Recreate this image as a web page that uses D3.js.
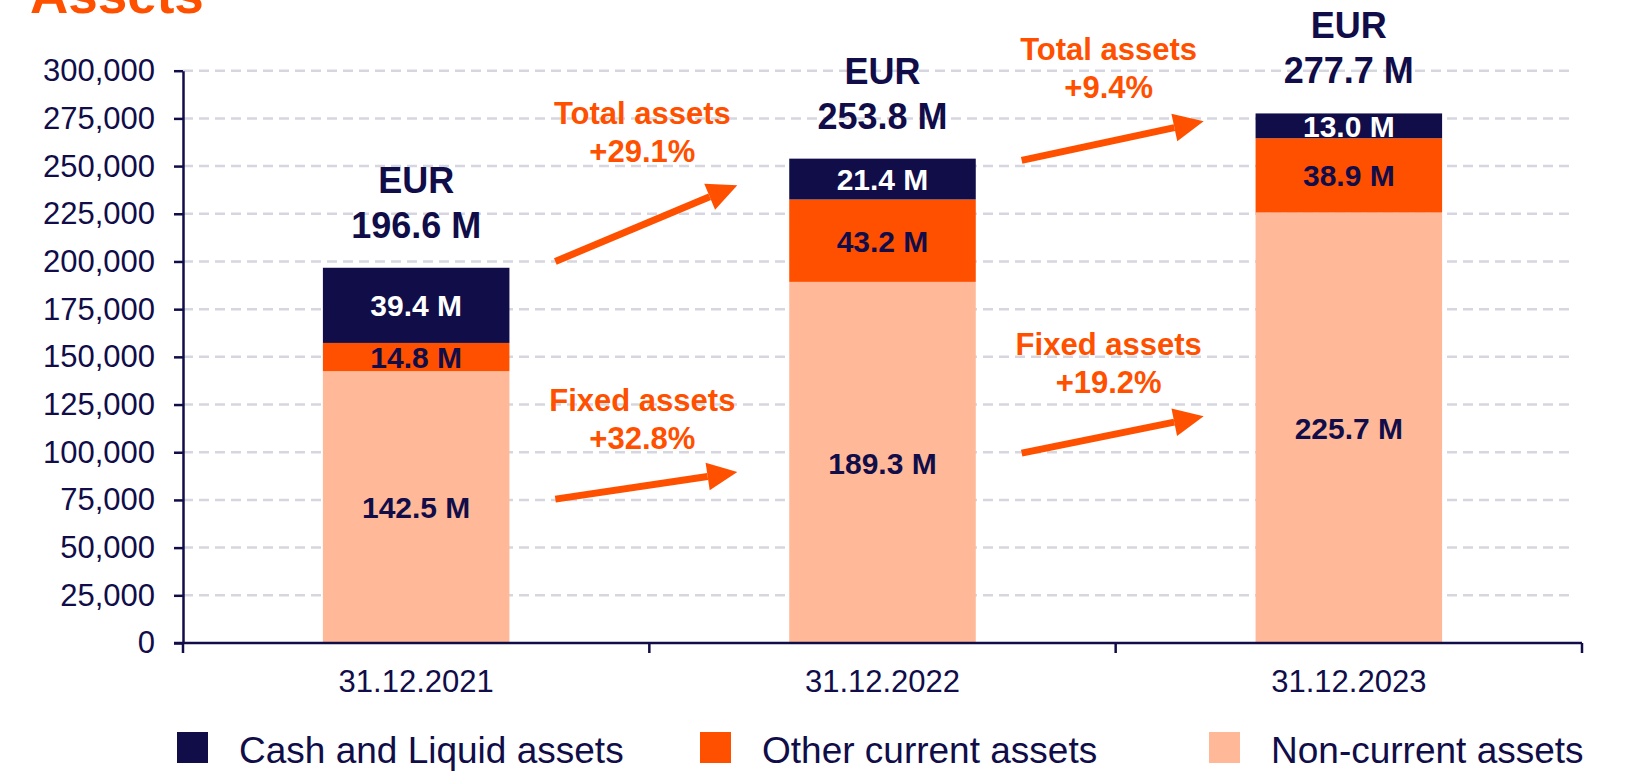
<!DOCTYPE html>
<html>
<head>
<meta charset="utf-8">
<script src="https://cdn.jsdelivr.net/npm/d3@7"></script>
<style>
    body { margin: 0; background: #fff; }
    svg { display: block; font-family: "Liberation Sans", Arial, sans-serif; }
</style>
</head>
<body>
<svg width="1630" height="771"></svg>
<script>
const
    dates = ['31.12.2021', '31.12.2022', '31.12.2023'],
    nonCurrent = [142500, 189300, 225700],
    otherCurrent = [14800, 43200, 38900],
    cash = [39400, 21400, 13000],
    totals = [196.6, 253.8, 277.7],
    yTicks = [0, 25000, 50000, 75000, 100000, 125000, 150000, 175000, 200000, 225000, 250000, 275000, 300000]

// growth notes between the bars, values in chart units
const
    totalGrowth = ['+29.1%', '+9.4%'],
    totalFrom = [200000, 253000],
    totalTo = [240000, 273500],
    fixedGrowth = ['+32.8%', '+19.2%'],
    fixedFrom = [75400, 99500],
    fixedTo = [89600, 118900]

const
    navy = '#100d49',
    orange = '#ff5000',
    peach = '#ffb998',
    grid = '#d6d6e0'

const series = [
    { key: 'cash', name: 'Cash and Liquid assets', color: navy, text: '#fff' },
    { key: 'other', name: 'Other current assets', color: orange, text: navy },
    { key: 'nonCurrent', name: 'Non-current assets', color: peach, text: navy }
]

const table = dates.map((d, i) => ({
    date: d,
    nonCurrent: nonCurrent[i],
    other: otherCurrent[i],
    cash: cash[i]
}))

const
    margin = { top: 70.7, right: 48, bottom: 128, left: 183 },
    width = 1630,
    height = 771

const svg = d3.select('svg')

const x = d3.scaleBand()
    .domain(dates)
    .range([margin.left, width - margin.right])
    .paddingInner(0.6)
    .paddingOuter(0.3)

const y = d3.scaleLinear()
    .domain([0, 300000])
    .range([height - margin.bottom, margin.top])

const y0 = y(0)

// title, cut by the top edge
svg.append('text')
    .attr('x', 30)
    .attr('y', 12.5)
    .attr('fill', orange)
    .attr('font-size', 53)
    .attr('font-weight', 'bold')
    .text('Assets')

// grid
svg.append('g')
    .selectAll('line')
    .data(yTicks.filter(d => d > 0))
    .join('line')
    .attr('x1', margin.left)
    .attr('x2', width - margin.right - 8)
    .attr('y1', d => y(d))
    .attr('y2', d => y(d))
    .attr('stroke', grid)
    .attr('stroke-width', 2.5)
    .attr('stroke-dasharray', '10,6')

// stacked bars
const stack = d3.stack().keys(['nonCurrent', 'other', 'cash'])(table)

const layers = svg.append('g')
    .selectAll('g')
    .data(stack)
    .join('g')
    .attr('fill', d => series.find(s => s.key === d.key).color)

layers.selectAll('rect')
    .data(d => d)
    .join('rect')
    .attr('x', d => x(d.data.date))
    .attr('width', x.bandwidth())
    .attr('y', d => y(d[1]))
    .attr('height', d => y(d[0]) - y(d[1]))

layers.selectAll('text')
    .data(d => d.map(v => Object.assign({ key: d.key }, { v })))
    .join('text')
    .attr('x', d => x(d.v.data.date) + x.bandwidth() / 2)
    .attr('y', d => (y(d.v[0]) + y(d.v[1])) / 2)
    .attr('dy', '0.37em')
    .attr('text-anchor', 'middle')
    .attr('font-size', 30)
    .attr('font-weight', 'bold')
    .attr('fill', d => series.find(s => s.key === d.key).text)
    .text(d => ((d.v[1] - d.v[0]) / 1000).toFixed(1) + ' M')

// totals above bars
const tops = svg.append('g')
    .selectAll('text')
    .data(table)
    .join('text')
    .attr('text-anchor', 'middle')
    .attr('font-size', 36)
    .attr('font-weight', 'bold')
    .attr('fill', navy)
    .attr('x', d => x(d.date) + x.bandwidth() / 2)

tops.append('tspan')
    .attr('x', d => x(d.date) + x.bandwidth() / 2)
    .attr('y', d => y(d.nonCurrent + d.other + d.cash) - 75)
    .text('EUR')

tops.append('tspan')
    .attr('x', d => x(d.date) + x.bandwidth() / 2)
    .attr('y', d => y(d.nonCurrent + d.other + d.cash) - 30)
    .text((d, i) => totals[i].toFixed(1) + ' M')

// axes
const yAxis = g => g
    .attr('transform', `translate(${margin.left},0)`)
    .call(d3.axisLeft(y).tickValues(yTicks).tickFormat(d3.format(',')).tickSize(9).tickPadding(19).tickSizeOuter(0))
    .call(g => g.selectAll('.tick line').attr('stroke', navy).attr('stroke-width', 2.5))
    .call(g => g.select('.domain').attr('stroke', navy).attr('stroke-width', 2.5))
    .call(g => g.selectAll('text').attr('fill', navy).attr('font-size', 31).attr('font-family', null))

const xAxis = g => g
    .attr('transform', `translate(0,${y0})`)
    .call(d3.axisBottom(x).tickSize(0).tickPadding(27))
    .call(g => g.select('.domain').remove())
    .call(g => g.selectAll('text').attr('fill', navy).attr('font-size', 31).attr('font-family', null))

svg.append('g').call(yAxis)
svg.append('g').call(xAxis)

// x baseline with ticks on band boundaries
const bounds = d3.range(dates.length + 1).map(i => margin.left + i * x.step())

svg.append('line')
    .attr('x1', margin.left - 9)
    .attr('x2', bounds[bounds.length - 1])
    .attr('y1', y0)
    .attr('y2', y0)
    .attr('stroke', navy)
    .attr('stroke-width', 2.5)

svg.append('g')
    .selectAll('line')
    .data(bounds)
    .join('line')
    .attr('x1', d => d)
    .attr('x2', d => d)
    .attr('y1', y0)
    .attr('y2', y0 + 10)
    .attr('stroke', navy)
    .attr('stroke-width', 2.5)

// growth arrows
function arrow(x1, v1, x2, v2) {
    const
        ya = y(v1),
        yb = y(v2),
        ang = Math.atan2(yb - ya, x2 - x1),
        len = 30,
        half = 14,
        bx = x2 - len * Math.cos(ang),
        by = yb - len * Math.sin(ang)

    svg.append('line')
        .attr('x1', x1)
        .attr('y1', ya)
        .attr('x2', bx)
        .attr('y2', by)
        .attr('stroke', orange)
        .attr('stroke-width', 7)

    svg.append('polygon')
        .attr('points', [
            [x2, yb],
            [bx - half * Math.sin(ang), by + half * Math.cos(ang)],
            [bx + half * Math.sin(ang), by - half * Math.cos(ang)]
        ].map(p => p.join(',')).join(' '))
        .attr('fill', orange)
}

function note(cx, tipY, label, pct) {
    const t = svg.append('text')
        .attr('text-anchor', 'middle')
        .attr('font-size', 31)
        .attr('font-weight', 'bold')
        .attr('fill', orange)

    t.append('tspan').attr('x', cx).attr('y', tipY - 61).text(label)
    t.append('tspan').attr('x', cx).attr('y', tipY - 23).text(pct)
}

for (let i = 0; i < 2; i++) {
    const b = bounds[i + 1]

    arrow(b - 94, totalFrom[i], b + 88, totalTo[i])
    note(b - 7, y(totalTo[i]), 'Total assets', totalGrowth[i])

    arrow(b - 94, fixedFrom[i], b + 88, fixedTo[i])
    note(b - 7, y(fixedTo[i]), 'Fixed assets', fixedGrowth[i])
}

// legend
const legend = svg.append('g')
    .selectAll('g')
    .data(series)
    .join('g')
    .attr('transform', (d, i) => `translate(${[177, 700, 1209][i]},732)`)

legend.append('rect')
    .attr('width', 31)
    .attr('height', 31)
    .attr('fill', d => d.color)

legend.append('text')
    .attr('x', 62)
    .attr('y', 31)
    .attr('font-size', 37)
    .attr('fill', navy)
    .text(d => d.name)
</script>
</body>
</html>
